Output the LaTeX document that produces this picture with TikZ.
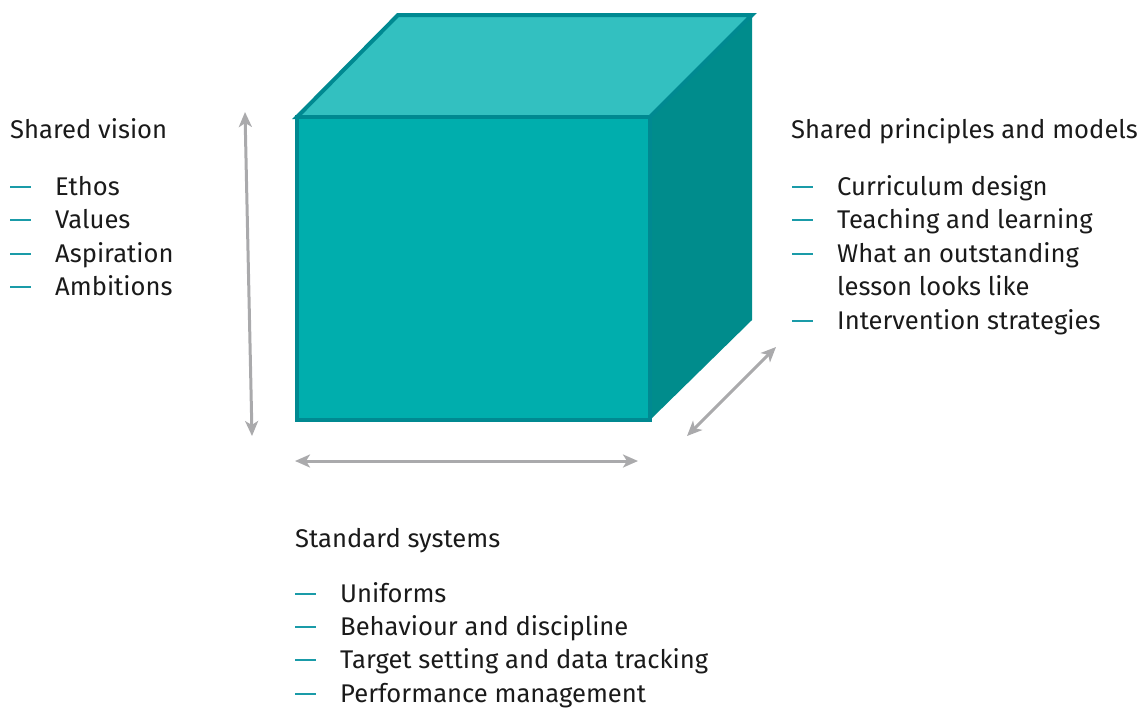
\documentclass[tikz,border=0pt]{standalone}
\usepackage{fontspec}
\setmainfont{Fira Sans}
\usetikzlibrary{arrows.meta}
\definecolor{frontc}{RGB}{0,174,173}
\definecolor{topc}{RGB}{51,192,192}
\definecolor{sidec}{RGB}{0,140,140}
\definecolor{edgec}{RGB}{0,137,145}
\definecolor{dashc}{RGB}{26,155,168}
\definecolor{arrc}{RGB}{170,170,172}
\definecolor{txtc}{RGB}{26,26,26}
\tikzset{
  txt/.style={anchor=base west, inner sep=0pt, text=txtc, font=\fontsize{25.6}{30}\selectfont},
  bul/.style={draw=dashc, line width=2pt},
  dimarrow/.style={draw=arrc, line width=3pt, {Stealth[length=15pt,width=13pt,inset=4pt]}-{Stealth[length=15pt,width=13pt,inset=4pt]}},
  face/.style={draw=edgec, line width=4pt, line join=miter}
}
\newcommand{\bulletline}[1]{\draw[bul] ([xshift=-45pt,yshift=8.5pt]#1.base west) -- ++(21pt,0);}
\begin{document}
\begin{tikzpicture}[x=1pt,y=-1pt]
\useasboundingbox (0,0) rectangle (1138,710);
% cube
\coordinate (ftl) at (297,117);
\coordinate (ftr) at (650,117);
\coordinate (fbr) at (650,420);
\coordinate (fbl) at (297,420);
\coordinate (btl) at (398,15);
\coordinate (btr) at (752,15);
\coordinate (bbr) at (752,320);
\fill[sidec] (ftr) -- (btr) -- (bbr) -- (fbr) -- cycle;
\filldraw[face, fill=topc] (ftl) -- (btl) -- (btr) -- (ftr) -- cycle;
\filldraw[face, fill=frontc] (ftl) -- (ftr) -- (fbr) -- (fbl) -- cycle;
% arrows
\coordinate (va1) at (245,112);
\coordinate (va2) at (252,436);
\coordinate (ha1) at (295,461);
\coordinate (ha2) at (638,461);
\coordinate (da1) at (776,347);
\coordinate (da2) at (687,436);
\draw[dimarrow] (va1) -- (va2);
\draw[dimarrow] (ha1) -- (ha2);
\draw[dimarrow] (da1) -- (da2);
% left text
\node[txt] (sv) at (10,138) {Shared vision};
\node[txt] (sv1) at (55,195) {Ethos};
\node[txt] (sv2) at (55,228) {Values};
\node[txt] (sv3) at (55,262) {Aspiration};
\node[txt] (sv4) at (55,295) {Ambitions};
\bulletline{sv1}\bulletline{sv2}\bulletline{sv3}\bulletline{sv4}
% right text
\node[txt] (sp) at (791,138) {Shared principles and models};
\node[txt] (sp1) at (837,195) {Curriculum design};
\node[txt] (sp2) at (837,228) {Teaching and learning};
\node[txt] (sp3) at (837,262) {What an outstanding};
\node[txt] (sp3b) at (837,295) {lesson looks like};
\node[txt] (sp4) at (837,329) {Intervention strategies};
\bulletline{sp1}\bulletline{sp2}\bulletline{sp3}\bulletline{sp4}
% bottom text
\node[txt] (ss) at (295,547) {Standard systems};
\node[txt] (ss1) at (340,602) {Uniforms};
\node[txt] (ss2) at (340,635) {Behaviour and discipline};
\node[txt] (ss3) at (340,668) {Target setting and data tracking};
\node[txt] (ss4) at (340,702) {Performance management};
\bulletline{ss1}\bulletline{ss2}\bulletline{ss3}\bulletline{ss4}
\end{tikzpicture}
\end{document}
